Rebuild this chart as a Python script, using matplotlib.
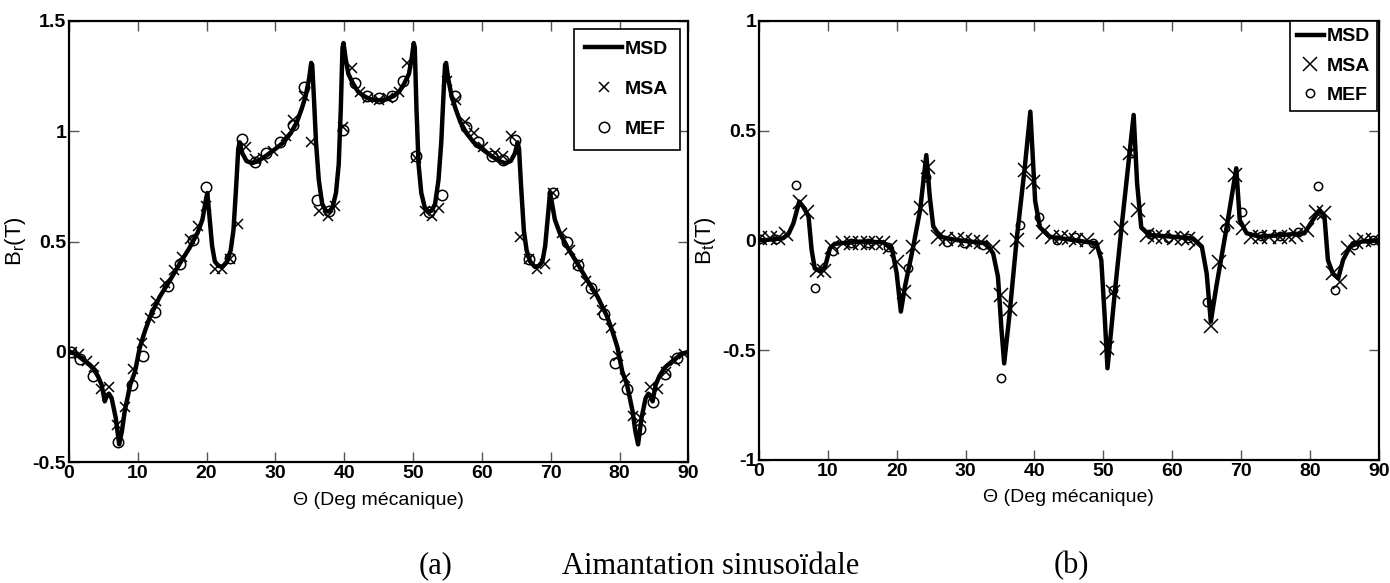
import matplotlib
matplotlib.use("Agg")
import matplotlib.pyplot as plt

FONT = ["Liberation Sans Narrow", "Liberation Sans", "DejaVu Sans"]

# (a) radial flux density B_r
msd_a_x = [0, 1, 2, 3, 3.5, 4.2, 4.75, 5.2, 5.5, 5.8, 6.2, 6.8, 7.3, 7.7, 8.1, 8.9, 9.6, 10.3, 11, 11.8,
           13.2, 14.7, 16.1, 17.5, 18.7, 19.4, 19.9, 20.1, 20.4, 20.8, 21.2, 21.7, 22.3, 23.0, 23.5, 23.9,
           24.3, 24.6, 24.8, 25.2, 25.8, 26.6, 27.5, 28.7, 30, 31.2, 32.2, 33.1, 33.8, 34.4, 34.9, 35.2,
           35.35, 35.6, 35.9, 36.3, 36.8, 37.3, 37.8, 38.3, 38.8, 39.2, 39.5, 39.75, 39.9, 40.2, 40.6, 41.3,
           42.0, 42.8, 43.8, 45,
           46.2, 47.2, 48.0, 48.7, 49.4, 49.8, 50.1, 50.25, 50.5, 50.8, 51.2, 51.7, 52.2, 52.7, 53.2, 53.7,
           54.1, 54.4, 54.65, 54.8, 55.1, 55.6, 56.2, 56.9, 57.8, 58.8, 60, 61.3, 62.5, 63.4, 64.2, 64.8,
           65.2, 65.4, 65.7, 66.1, 66.5, 67.0, 67.7, 68.3, 68.8, 69.2, 69.6, 69.9, 70.1, 70.6, 71.3, 72.5,
           73.9, 75.3, 76.8, 78.2, 79.0, 79.7, 80.4, 81.1, 81.9, 82.3, 82.7, 83.2, 83.8, 84.2, 84.5, 84.8,
           85.25, 85.8, 86.5, 87, 88, 89, 90]
msd_a_y = [0.0, -0.01, -0.035, -0.06, -0.075, -0.11, -0.15, -0.225, -0.20, -0.19, -0.21, -0.30, -0.42, -0.36,
           -0.27, -0.15, -0.09, 0.02, 0.09, 0.16, 0.25, 0.325, 0.40, 0.47, 0.54, 0.60, 0.69, 0.72, 0.62,
           0.48, 0.41, 0.39, 0.385, 0.41, 0.46, 0.55, 0.75, 0.92, 0.95, 0.90, 0.865, 0.855, 0.865, 0.89,
           0.92, 0.95, 0.99, 1.04, 1.10, 1.16, 1.24, 1.31, 1.30, 1.15, 0.95, 0.78, 0.67, 0.64, 0.635, 0.655,
           0.72, 0.85, 1.10, 1.38, 1.40, 1.33, 1.26, 1.215, 1.18, 1.16, 1.145, 1.14,
           1.145, 1.16, 1.18, 1.215, 1.26, 1.33, 1.40, 1.38, 1.10, 0.85, 0.72, 0.655, 0.635, 0.64, 0.67,
           0.78, 0.95, 1.15, 1.30, 1.31, 1.24, 1.16, 1.10, 1.04, 0.99, 0.95, 0.92, 0.89, 0.865, 0.855,
           0.865, 0.90, 0.95, 0.92, 0.75, 0.55, 0.46, 0.41, 0.385, 0.39, 0.41, 0.48, 0.62, 0.72, 0.69,
           0.60, 0.54, 0.47, 0.40, 0.325, 0.25, 0.16, 0.09, 0.02, -0.09, -0.15, -0.27, -0.36, -0.42, -0.30,
           -0.21, -0.19, -0.20, -0.225, -0.15, -0.11, -0.075, -0.06, -0.035, -0.01, 0.0]

msa_a_x = [0.5, 1.5, 2.6, 3.6, 4.7, 5.8, 7.0, 8.1, 9.3, 10.6, 11.8, 12.7, 14.0, 15.2, 16.4, 17.6, 18.7,
           19.9, 21.2, 22.2, 23.4, 24.6, 25.7, 27.0, 28.2, 29.7, 31.6, 32.6, 34.1, 35.2, 36.4, 37.7, 38.7,
           39.8, 41.1, 42.3, 43.5, 45.0, 46.4, 47.9, 49.1, 50.4, 51.7, 52.7, 53.8, 55.0, 56.2, 57.6, 58.8,
           60.2, 61.9, 63.1, 64.3, 65.5, 66.8, 68.0, 69.2, 70.4, 71.6, 72.8, 74.0, 75.2, 76.4, 77.5, 78.7,
           79.8, 80.8, 82.0, 83.1, 84.4, 85.6, 86.8, 88.0, 89.4]
msa_a_y = [0.0, -0.01, -0.04, -0.07, -0.17, -0.16, -0.33, -0.25, -0.08, 0.04, 0.155, 0.23, 0.31, 0.37, 0.43,
           0.51, 0.57, 0.66, 0.375, 0.375, 0.42, 0.58, 0.93, 0.875, 0.88, 0.91, 0.98, 1.05, 1.16, 0.95,
           0.64, 0.615, 0.66, 1.02, 1.285, 1.18, 1.15, 1.14, 1.15, 1.18, 1.31, 0.88, 0.64, 0.615, 0.65,
           1.23, 1.14, 1.04, 0.99, 0.93, 0.90, 0.89, 0.98, 0.52, 0.42, 0.375, 0.40, 0.72, 0.54, 0.46, 0.40,
           0.32, 0.26, 0.19, 0.11, -0.02, -0.12, -0.29, -0.30, -0.16, -0.17, -0.09, -0.04, -0.01]

mef_a_x = [0.3, 1.6, 3.5, 7.2, 9.1, 10.8, 12.5, 14.4, 16.1, 18.0, 19.9, 23.4, 25.2, 27.0, 28.7, 30.7, 32.5,
           34.2, 36.0, 37.8, 39.8, 41.6, 43.3, 45.0, 46.9, 48.6, 50.4, 52.3, 54.2, 56.1, 57.7, 59.5, 61.4,
           63.0, 64.8, 66.8, 70.4, 72.3, 73.9, 75.8, 77.7, 79.4, 81.1, 83.0, 84.9, 86.6, 88.4]
mef_a_y = [0.0, -0.035, -0.11, -0.41, -0.15, -0.02, 0.18, 0.30, 0.40, 0.505, 0.745, 0.425, 0.965, 0.86, 0.90,
           0.95, 1.03, 1.20, 0.69, 0.64, 1.005, 1.22, 1.16, 1.15, 1.16, 1.23, 0.89, 0.635, 0.71, 1.16, 1.02,
           0.95, 0.89, 0.87, 0.96, 0.42, 0.72, 0.50, 0.395, 0.29, 0.17, -0.05, -0.17, -0.35, -0.23, -0.10,
           -0.03]

# (b) tangential flux density B_t
msd_b_x = [0, 2, 3.5, 4.3, 5.0, 5.85, 6.5, 7.2, 7.65, 8.1, 8.85, 9.6, 10.3, 11.0, 11.75, 14.7, 18.0, 19.3,
           20.0, 20.6, 21.2, 22.4, 23.4, 24.3, 24.8, 25.3, 26.3, 28.7, 33.0, 34.0, 34.7, 35.2, 35.6, 36.4,
           37.4, 38.6, 39.4, 40.1, 40.8, 42.2, 46.1, 49.0, 49.7, 50.2, 50.6, 51.7, 52.6, 53.8, 54.4, 54.9,
           55.5, 56.7, 63.0, 64.3, 65.0, 65.6, 66.4, 67.9, 69.3, 69.8, 70.8, 72.7, 79.2, 80.4, 81.4, 82.1,
           82.6, 83.3, 84.1, 84.8, 85.8, 87.5, 90]
msd_b_y = [0.0, 0.005, 0.01, 0.03, 0.078, 0.177, 0.15, 0.11, -0.043, -0.127, -0.14, -0.12, -0.036, -0.015,
           -0.013, -0.005, -0.008, -0.036, -0.15, -0.324, -0.21, -0.028, 0.139, 0.389, 0.20, 0.065, 0.017,
           0.002, -0.013, -0.059, -0.165, -0.40, -0.56, -0.33, 0.0, 0.336, 0.587, 0.18, 0.06, 0.017, 0.0,
           -0.013, -0.089, -0.35, -0.582, -0.225, 0.048, 0.397, 0.572, 0.26, 0.06, 0.025, 0.01, -0.028,
           -0.15, -0.37, -0.21, 0.06, 0.329, 0.093, 0.033, 0.017, 0.033, 0.093, 0.139, 0.108, -0.089, -0.15,
           -0.172, -0.089, -0.028, -0.005, 0.0]

msa_b_x = [0.2, 1.6, 2.8, 4.0, 5.95, 7.0, 8.4, 9.4, 10.55, 12.2, 13.4, 14.6, 15.8, 17.0, 18.0, 19.0, 20.0,
           21.0, 22.4, 23.5, 24.6, 26.0, 27.2, 28.7, 29.9, 31.1, 32.3, 34.0, 35.2, 36.5, 37.4, 38.6, 39.8,
           41.3, 42.5, 43.9, 45.0, 46.0, 47.6, 49.0, 50.5, 51.4, 52.6, 53.8, 55.1, 56.3, 57.5, 58.7, 60.2,
           61.4, 62.3, 63.5, 65.6, 66.8, 67.9, 69.1, 70.3, 71.5, 72.7, 74.1, 75.6, 77.0, 78.0, 79.5, 80.9,
           82.1, 83.3, 84.3, 85.5, 86.7, 87.9, 89.2]
msa_b_y = [0.01, 0.01, 0.01, 0.03, 0.177, 0.13, -0.135, -0.14, -0.028, -0.01, -0.01, -0.01, -0.01, -0.01,
           -0.012, -0.028, -0.097, -0.234, -0.028, 0.147, 0.336, 0.017, 0.005, 0.005, 0.0, -0.005, -0.005,
           -0.028, -0.248, -0.31, 0.0, 0.32, 0.267, 0.04, 0.017, 0.017, 0.01, 0.0, 0.0, -0.028, -0.49,
           -0.233, 0.056, 0.397, 0.139, 0.025, 0.017, 0.017, 0.01, 0.01, 0.005, -0.013, -0.39, -0.10, 0.085,
           0.298, 0.056, 0.017, 0.017, 0.017, 0.017, 0.017, 0.025, 0.048, 0.131, 0.124, -0.15, -0.19,
           -0.036, -0.005, 0.0, 0.0]

mef_b_x = [0.2, 2.5, 5.4, 8.1, 10.8, 13.3, 15.8, 18.7, 21.7, 24.3, 27.3, 29.7, 32.6, 35.2, 37.9, 40.7, 43.2,
           45.9, 48.5, 51.4, 54.1, 56.8, 59.4, 62.3, 65.0, 67.6, 70.2, 72.9, 75.6, 78.3, 81.1, 83.7, 86.4,
           89.2]
mef_b_y = [0.005, 0.005, 0.253, -0.218, -0.05, -0.01, -0.01, -0.03, -0.127, 0.29, -0.005, -0.01, -0.02,
           -0.628, 0.07, 0.108, 0.0, 0.017, -0.01, -0.225, 0.397, 0.03, 0.01, 0.01, -0.279, 0.056, 0.131,
           0.02, 0.02, 0.04, 0.248, -0.225, -0.02, 0.0]

x_ticks = [0, 10, 20, 30, 40, 50, 60, 70, 80, 90]
a_ticks = [-0.5, 0, 0.5, 1, 1.5]
a_labels = ["-0.5", "0", "0.5", "1", "1.5"]
b_ticks = [-1, -0.5, 0, 0.5, 1]
b_labels = ["-1", "-0.5", "0", "0.5", "1"]

plt.rcParams["font.family"] = FONT
plt.rcParams["mathtext.fontset"] = "custom"
plt.rcParams["mathtext.rm"] = "Liberation Sans"
plt.rcParams["mathtext.it"] = "Liberation Sans"

fig = plt.figure(figsize=(13.9, 5.83), dpi=100)
ax_a = fig.add_axes([0.0496, 0.2075, 0.4456, 0.7565])
ax_b = fig.add_axes([0.546, 0.211, 0.446, 0.753])


def style(ax, yticks, ylabels, ylim, ylabel):
    ax.set_xlim(0, 90)
    ax.set_ylim(*ylim)
    ax.set_xticks(x_ticks)
    ax.set_xticklabels([str(t) for t in x_ticks], fontsize=14, fontweight="bold")
    ax.set_yticks(yticks)
    ax.set_yticklabels(ylabels, fontsize=14, fontweight="bold")
    ax.tick_params(direction="in", top=True, right=True, length=7, width=1,
                   color="#555555", pad=2)
    for s in ax.spines.values():
        s.set_linewidth(1.6)
    ax.set_xlabel("Θ (Deg mécanique)", fontsize=14, labelpad=7)
    ax.set_ylabel(ylabel, fontsize=16, labelpad=3)


ax_a.plot(msd_a_x, msd_a_y, color="black", lw=3.2, solid_joinstyle="round", label="MSD")
ax_a.plot(msa_a_x, msa_a_y, ls="none", marker="x", ms=7, mew=1.1, color="black", label="MSA")
ax_a.plot(mef_a_x, mef_a_y, ls="none", marker="o", ms=7.5, mew=1.1, mfc="none", mec="black",
          label="MEF")
style(ax_a, a_ticks, a_labels, (-0.5, 1.5), r"B$_\mathrm{r}$(T)")
leg = ax_a.legend(loc="upper right", bbox_to_anchor=(0.987, 0.982), borderaxespad=0, fancybox=False,
                  edgecolor="black", framealpha=1, handlelength=1.9, handletextpad=0.15,
                  labelspacing=1.15, borderpad=0.6, prop={"weight": "bold", "size": 14})
leg.get_frame().set_linewidth(1.2)

ax_b.plot(msd_b_x, msd_b_y, color="black", lw=3.2, solid_joinstyle="round", label="MSD")
ax_b.plot(msa_b_x, msa_b_y, ls="none", marker="x", ms=9.5, mew=1.1, color="black", label="MSA")
ax_b.plot(mef_b_x, mef_b_y, ls="none", marker="o", ms=6, mew=1.1, mfc="none", mec="black", label="MEF")
style(ax_b, b_ticks, b_labels, (-1, 1), r"B$_\mathrm{t}$(T)")
leg = ax_b.legend(loc="upper right", bbox_to_anchor=(0.997, 1.0), borderaxespad=0, fancybox=False,
                  edgecolor="black", framealpha=1, handlelength=1.4, handletextpad=0.15,
                  labelspacing=0.6, borderpad=0.35, prop={"weight": "bold", "size": 14})
leg.get_frame().set_linewidth(1.2)

serif = ["Liberation Serif", "DejaVu Serif"]
fig.text(0.313, 0.016, "(a)", fontsize=22, family=serif, ha="center", va="baseline")
fig.text(0.5115, 0.016, "Aimantation sinusoïdale", fontsize=22, family=serif, ha="center", va="baseline")
fig.text(0.771, 0.016, "(b)", fontsize=22, family=serif, ha="center", va="baseline")

fig.savefig("out.png", dpi=100)
